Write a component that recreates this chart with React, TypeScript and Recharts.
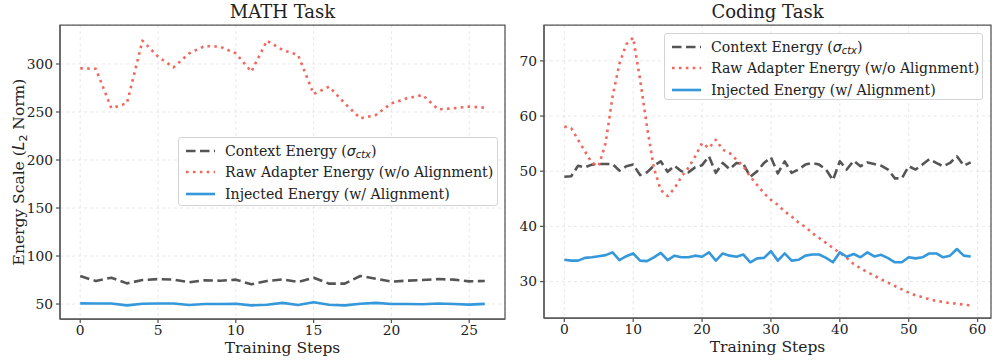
import { LineChart, Line, XAxis, YAxis, CartesianGrid, ReferenceArea } from 'recharts';

const SERIF = '"DejaVu Serif", serif';
const MATHFONT = '"DejaVu Sans", sans-serif';

// MATH task (27 steps)
const mathSteps = Array.from({ length: 27 }, (_, i) => i);
const mathContext = [79.2, 74, 77.4, 71.5, 75, 76, 75.4, 72.7, 74.7, 74.3, 75.4, 70.5, 74, 75.7, 73, 77.4, 71.2, 71.2, 79.2, 76.4, 73.3, 74.3, 75, 76, 75.4, 73.6, 74];
const mathRaw = [295.5, 295, 254, 259, 324.3, 307.6, 296.5, 311, 318.7, 318, 311, 292, 324.3, 314.6, 309.4, 268.7, 276.4, 259, 243.4, 246.9, 259, 264.2, 267.7, 252.8, 253.8, 255.6, 254.5];
const mathInjected = [50.7, 50.5, 50.5, 48.6, 50.3, 50.6, 50.5, 49, 50, 50, 50.2, 48.6, 49.3, 51.2, 49, 51.8, 49.2, 48.6, 50.3, 51.2, 50, 50, 49.7, 50.6, 50, 49.4, 50.2];

// Coding task (60 steps)
const codeSteps = Array.from({ length: 60 }, (_, i) => i);
const codeContext = [
  49.0, 49.1, 51.0, 50.7, 51.2, 51.3, 51.3, 51.3, 50.1, 50.9,
  51.2, 49.3, 49.8, 51.0, 51.8, 49.9, 51.0, 50.0, 49.8, 50.7,
  51.1, 52.7, 49.7, 51.5, 50.4, 51.5, 51.3, 49.0, 50.0, 51.5,
  52.5, 49.6, 51.8, 49.7, 50.3, 51.2, 51.5, 51.2, 50.3, 48.4,
  51.8, 50.3, 51.9, 50.9, 51.6, 51.3, 51.0, 50.3, 48.7, 48.7,
  50.9, 50.3, 51.2, 52.2, 51.5, 50.9, 51.5, 52.7, 51.0, 51.6,
];
const codeRaw = [
  58.1, 57.8, 55.7, 53.6, 51.5, 51.0, 55.1, 63.5, 69.5, 73.0,
  74.2, 66.6, 58.1, 50.6, 46.6, 45.5, 46.9, 49.0, 50.6, 52.7,
  55.1, 54.2, 55.7, 53.9, 53.3, 52.1, 50.9, 49.0, 47.5, 46.0,
  44.8, 43.9, 42.7, 41.8, 40.7, 39.9, 38.8, 37.9, 37.0, 36.1,
  35.2, 34.3, 33.2, 32.4, 31.7, 31.1, 30.4, 29.8, 29.2, 28.6,
  28.0, 27.5, 27.2, 26.8, 26.5, 26.3, 26.1, 26.0, 25.8, 25.7,
];
const codeInjected = [
  33.95, 33.8, 33.8, 34.3, 34.4, 34.6, 34.8, 35.3, 33.9, 34.6,
  35.1, 33.8, 33.7, 34.4, 35.2, 33.9, 34.7, 34.4, 34.4, 34.7,
  34.5, 35.3, 33.8, 35.1, 34.7, 34.5, 34.9, 33.5, 34.2, 34.3,
  35.5, 33.8, 35.1, 33.8, 33.95, 34.7, 34.9, 34.9, 34.3, 33.5,
  35.3, 34.5, 35.0, 34.4, 35.3, 34.55, 34.85, 34.25, 33.5, 33.5,
  34.4, 34.2, 34.4, 35.1, 35.1, 34.4, 34.7, 35.9, 34.7, 34.55,
];

const mathXTicks = [0, 5, 10, 15, 20, 25];
const mathYTicks = [50, 100, 150, 200, 250, 300];
const codeXTicks = [0, 10, 20, 30, 40, 50, 60];
const codeYTicks = [30, 40, 50, 60, 70];

const mathRows = mathSteps.map((s, i) => ({ step: s, context: mathContext[i], raw: mathRaw[i], injected: mathInjected[i] }));
const codeRows = codeSteps.map((s, i) => ({ step: s, context: codeContext[i], raw: codeRaw[i], injected: codeInjected[i] }));

const SERIES = [
  { key: 'context', color: '#555555', dash: '9.5 4.5' },
  { key: 'raw', color: '#F1675D', dash: '2.6 4.3' },
  { key: 'injected', color: '#3498DB', dash: undefined },
];

const FRAME = '#555';
const tickStyle = { fontFamily: SERIF, fontSize: 13.8, fill: '#222' };

function LegendLabel({ k }: { k: string }) {
  if (k === 'context')
    return (
      <span>
        Context Energy (<span style={{ fontFamily: MATHFONT, fontStyle: 'italic' }}>σ</span>
        <span style={{ fontFamily: MATHFONT, fontStyle: 'italic', fontSize: '0.7em', position: 'relative', top: '0.25em' }}>ctx</span>)
      </span>
    );
  if (k === 'raw') return <span>Raw Adapter Energy (w/o Alignment)</span>;
  return <span>Injected Energy (w/ Alignment)</span>;
}

function LegendBox({ left, top, width, height }: { left: number; top: number; width: number; height: number }) {
  return (
    <div
      style={{
        position: 'absolute', left, top, width, height, boxSizing: 'border-box',
        border: '1px solid #d4d4d4', borderRadius: 3, background: 'rgba(255,255,255,0.85)',
        fontFamily: SERIF, fontSize: 14.1, color: '#222', padding: '2px 0 0 7px',
      }}
    >
      {SERIES.map((s) => (
        <div key={s.key} style={{ display: 'flex', alignItems: 'center', height: 21.5, whiteSpace: 'nowrap' }}>
          <svg width={29} height={10} style={{ flex: 'none' }}>
            <line x1={0} x2={29} y1={5} y2={5} stroke={s.color} strokeWidth={2.6} strokeDasharray={s.dash} />
          </svg>
          <span style={{ marginLeft: 10 }}>
            <LegendLabel k={s.key} />
          </span>
        </div>
      ))}
    </div>
  );
}

function XLabel(props: any) {
  const vb = props.viewBox;
  return (
    <text x={vb.x + vb.width / 2} y={vb.y + 29} textAnchor="middle" dominantBaseline="central" fontFamily={SERIF} fontSize={15.5} fill="#222">
      Training Steps
    </text>
  );
}

function YLabel(props: any) {
  const vb = props.viewBox;
  const cx = 19;
  const cy = vb.y + vb.height / 2;
  return (
    <text x={cx} y={cy} transform={`rotate(-90, ${cx}, ${cy})`} textAnchor="middle" dominantBaseline="central" fontFamily={SERIF} fontSize={15.5} fill="#222">
      Energy Scale (<tspan fontFamily={MATHFONT} fontStyle="italic">L</tspan>
      <tspan fontFamily={MATHFONT} fontSize={11} dy={4}>2</tspan>
      <tspan dy={-4}> Norm)</tspan>
    </text>
  );
}

function Panel(p: {
  rows: any[]; left: number; width: number; yAxisWidth: number; marginRight: number; bottom: number;
  xDomain: [number, number]; xTicks: number[]; yDomain: [number, number]; yTicks: number[]; yLabel?: boolean;
}) {
  return (
    <div style={{ position: 'absolute', left: p.left, top: 0 }}>
      <LineChart width={p.width} height={364} data={p.rows} margin={{ top: 25, right: p.marginRight, bottom: 0, left: 0 }}>
        <CartesianGrid strokeDasharray="3 3" stroke="#e2e2e2" strokeWidth={0.8} />
        <XAxis
          dataKey="step" type="number" domain={p.xDomain} ticks={p.xTicks} allowDataOverflow
          height={p.bottom} tickSize={4} tickMargin={2} tick={tickStyle}
          stroke={FRAME} strokeWidth={1.25} tickLine={{ stroke: FRAME }}
          label={XLabel}
        />
        <YAxis
          type="number" domain={p.yDomain} ticks={p.yTicks} allowDataOverflow width={p.yAxisWidth}
          tickSize={4} tickMargin={3} tick={tickStyle} stroke={FRAME} strokeWidth={1.25} tickLine={{ stroke: FRAME }}
          label={p.yLabel ? YLabel : undefined}
        />
        <ReferenceArea
          x1={p.xDomain[0]} x2={p.xDomain[1]} y1={p.yDomain[0]} y2={p.yDomain[1]}
          fill="none" fillOpacity={0} stroke={FRAME} strokeWidth={1.25} ifOverflow="visible"
        />
        {SERIES.map((s) => (
          <Line
            key={s.key} dataKey={s.key} type="linear" stroke={s.color} strokeWidth={2.6}
            strokeDasharray={s.dash} strokeLinecap="butt" strokeLinejoin="round"
            dot={false} activeDot={false} isAnimationActive={false}
          />
        ))}
      </LineChart>
    </div>
  );
}

const titleStyle = { position: 'absolute' as const, top: 0, height: 24, lineHeight: '24px', textAlign: 'center' as const, fontFamily: SERIF, fontSize: 18, color: '#222' };

export default function App() {
  return (
    <div style={{ position: 'absolute', left: 0, top: 0, width: 997, height: 364, background: '#fff', overflow: 'hidden' }}>
      <Panel rows={mathRows} left={0} width={515} yAxisWidth={60} marginRight={10} bottom={45}
        xDomain={[-1.3, 27.3]} xTicks={mathXTicks} yDomain={[34.4, 340.6]} yTicks={mathYTicks} yLabel />
      <Panel rows={codeRows} left={500} width={497} yAxisWidth={44} marginRight={6} bottom={46}
        xDomain={[-2.95, 61.95]} xTicks={codeXTicks} yDomain={[23.4, 76.5]} yTicks={codeYTicks} />
      <div style={{ ...titleStyle, left: 60, width: 445 }}>MATH Task</div>
      <div style={{ ...titleStyle, left: 544, width: 447 }}>Coding Task</div>
      <LegendBox left={178} top={137} width={320} height={69} />
      <LegendBox left={664} top={33} width={319} height={67} />
    </div>
  );
}
